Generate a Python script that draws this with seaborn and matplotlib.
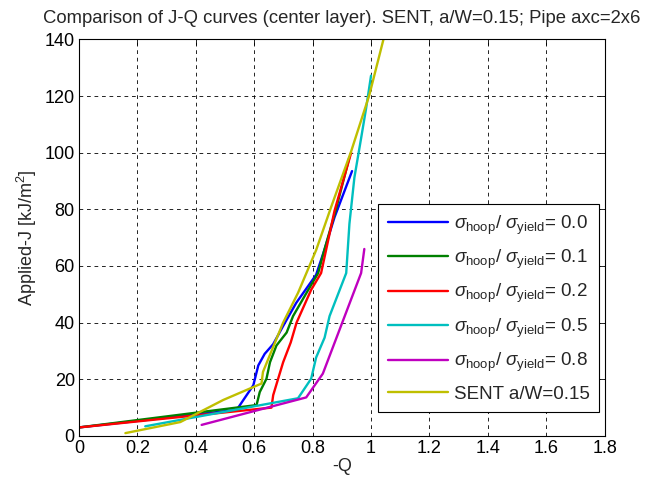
import matplotlib
matplotlib.use("Agg")
import matplotlib.pyplot as plt
import seaborn as sns
import pandas as pd

# J-Q curves
blue_x = [0.0, 0.54, 0.597, 0.614, 0.636, 0.665, 0.699, 0.744, 0.812, 0.840, 0.875, 0.935]
blue_y = [3.0, 9.2, 17.9, 24.9, 29.0, 32.4, 38.8, 47.0, 56.9, 65.6, 77.2, 93.5]

green_x = [0.0, 0.608, 0.619, 0.642, 0.654, 0.676, 0.711, 0.733, 0.779, 0.819, 0.840, 0.880, 0.925]
green_y = [3.0, 10.9, 15.5, 20.2, 26.0, 31.9, 36.5, 42.3, 50.5, 57.5, 65.6, 80.0, 98.0]

red_x = [0.0, 0.659, 0.665, 0.682, 0.699, 0.725, 0.745, 0.795, 0.829, 0.846, 0.875, 0.932]
red_y = [3.0, 10.0, 14.4, 20.2, 26.0, 33.0, 40.0, 51.6, 57.5, 65.6, 79.5, 100.0]

cyan_x = [0.227, 0.750, 0.795, 0.812, 0.841, 0.858, 0.915, 0.926, 0.943, 0.966, 0.983, 1.0]
cyan_y = [3.4, 13.3, 20.2, 27.7, 34.7, 42.3, 57.5, 74.9, 91.2, 105.1, 115.6, 127.2]

magenta_x = [0.420, 0.778, 0.835, 0.880, 0.966, 0.977]
magenta_y = [3.9, 13.6, 22.0, 34.2, 57.5, 66.0]

sent_x = [0.159, 0.347, 0.494, 0.625, 0.630, 0.699, 0.750, 0.812, 0.863, 0.932, 0.994, 1.045]
sent_y = [1.0, 4.9, 12.7, 18.5, 22.6, 40.0, 50.5, 65.6, 80.7, 100.5, 120.3, 141.0]

ratios = ["0.0", "0.1", "0.2", "0.5", "0.8"]
labels = [r"$\sigma_{\mathrm{hoop}}$/ $\sigma_{\mathrm{yield}}$= " + r for r in ratios] + ["SENT a/W=0.15"]
colors = ["#0000ff", "#008000", "#ff0000", "#00bfbf", "#bf00bf", "#bfbf00"]

series = [(blue_x, blue_y), (green_x, green_y), (red_x, red_y),
          (cyan_x, cyan_y), (magenta_x, magenta_y), (sent_x, sent_y)]

sns.set_style("white")
plt.rcParams['font.family'] = ['Liberation Sans', 'DejaVu Sans']
plt.rcParams['mathtext.fontset'] = 'custom'
plt.rcParams['mathtext.rm'] = 'Liberation Sans'
plt.rcParams['mathtext.it'] = 'Liberation Sans:italic'

fig = plt.figure(figsize=(6.58, 4.86), dpi=100)
ax = fig.add_axes([0.120, 0.103, 0.799, 0.816])

frames = []
for (xs, ys), lab in zip(series, labels):
    frames.append(pd.DataFrame({"Q": xs, "J": ys, "case": lab}))
df = pd.concat(frames, ignore_index=True)

sns.lineplot(data=df, x="Q", y="J", hue="case", palette=colors, sort=False,
             estimator=None, units="case", lw=1.7, ax=ax, legend=False)

ax.set_xlim(0, 1.8)
ax.set_ylim(0, 140)
ax.set_xticks([0, 0.2, 0.4, 0.6, 0.8, 1.0, 1.2, 1.4, 1.6, 1.8])
ax.set_xticklabels(["0", "0.2", "0.4", "0.6", "0.8", "1", "1.2", "1.4", "1.6", "1.8"])
ax.set_yticks(range(0, 141, 20))
ax.grid(True, color="black", linestyle=(0, (4.5, 4.5)), linewidth=0.6)
ax.tick_params(direction="in", top=True, right=True, labelsize=13, length=4, width=0.6,
               colors="black", pad=3)
for s in ax.spines.values():
    s.set_color("black")
    s.set_linewidth(0.8)

ax.set_xlabel("-Q", fontsize=13, labelpad=1)
ax.set_ylabel(r"Applied-J [kJ/m$^2$]", fontsize=13, labelpad=4)
ax.set_title("Comparison of J-Q curves (center layer). SENT, a/W=0.15; Pipe axc=2x6", fontsize=13.3, pad=12)

handles = ax.get_lines()[:6]
leg = ax.legend(handles, labels, loc="lower right", bbox_to_anchor=(0.99, 0.06),
                fontsize=13.5, handlelength=3.2, frameon=True, fancybox=False,
                framealpha=1, edgecolor="black", borderpad=0.5, labelspacing=0.6,
                handletextpad=0.35, borderaxespad=0)
leg.get_frame().set_linewidth(0.8)

fig.savefig("out.png", dpi=100)
